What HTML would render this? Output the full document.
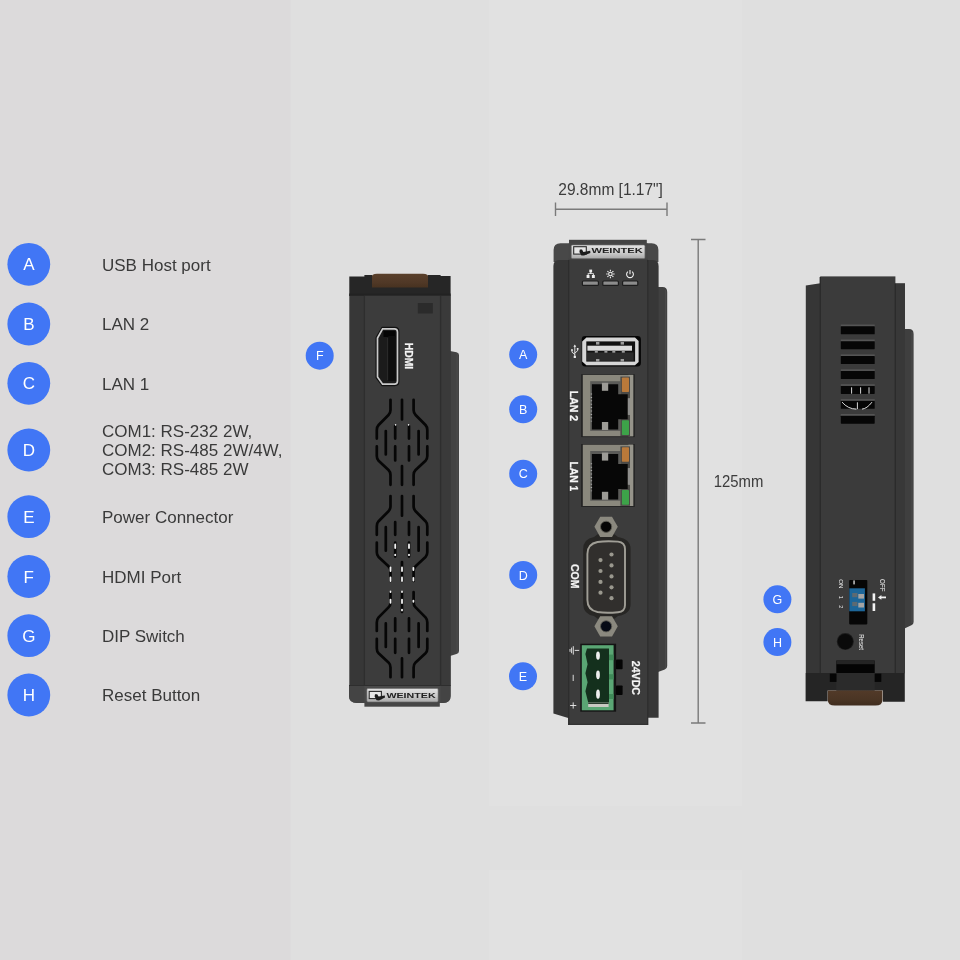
<!DOCTYPE html>
<html>
<head>
<meta charset="utf-8">
<title>cMT-FHDX-820 I/O ports</title>
<style>
html,body{margin:0;padding:0;background:#dfdfdf;}
body{width:960px;height:960px;overflow:hidden;font-family:"Liberation Sans",sans-serif;}
svg{will-change:transform;display:block;position:absolute;left:0;top:0;}
text{font-family:"Liberation Sans",sans-serif;}
.lg{font-size:17px;fill:#3a3a3a;}
.cl{font-size:17px;fill:#ffffff;text-anchor:middle;}
.cs{font-size:12.5px;fill:#ffffff;text-anchor:middle;}
.dim{font-size:17px;fill:#3c3c3c;}
.wb{font-weight:bold;fill:#f6f6f6;stroke:#f6f6f6;stroke-width:0.25px;}
</style>
</head>
<body>
<svg width="960" height="960" viewBox="0 0 960 960">
<defs>
  <linearGradient id="bgL" x1="0" y1="0" x2="1" y2="0">
    <stop offset="0" stop-color="#dcdbdc"/><stop offset="1" stop-color="#dad9da"/>
  </linearGradient>
  <linearGradient id="plate" x1="0" y1="0" x2="0" y2="1">
    <stop offset="0" stop-color="#e2e2e2"/><stop offset="0.6" stop-color="#c9c9c9"/><stop offset="1" stop-color="#a9a9a9"/>
  </linearGradient>
  <linearGradient id="brown" x1="0" y1="0" x2="0" y2="1">
    <stop offset="0" stop-color="#5a402b"/><stop offset="0.6" stop-color="#503826"/><stop offset="1" stop-color="#46311f"/>
  </linearGradient>
  <linearGradient id="brown2" x1="0" y1="0" x2="0" y2="1">
    <stop offset="0" stop-color="#523a28"/><stop offset="0.6" stop-color="#4a3524"/><stop offset="1" stop-color="#3f2c1e"/>
  </linearGradient>
</defs>

<!-- ================= BACKGROUND ================= -->
<rect x="0" y="0" width="960" height="960" fill="#dfdfdf"/>
<rect x="0" y="0" width="290.8" height="960" fill="#dcdadb"/>
<rect x="290.8" y="0" width="198.4" height="960" fill="#dfdfdf"/>
<rect x="489.2" y="0" width="253.4" height="960" fill="#e1e1e1"/>
<rect x="489.2" y="806" width="253.4" height="64" fill="#dfdfdf"/>
<rect x="742.6" y="0" width="217.4" height="960" fill="#dfdfdf"/>

<!-- ================= LEGEND ================= -->
<g id="legend">
  <circle cx="28.8" cy="264.3" r="21.4" fill="#4176f5"/>
  <circle cx="28.8" cy="324" r="21.4" fill="#4176f5"/>
  <circle cx="28.8" cy="383.3" r="21.4" fill="#4176f5"/>
  <circle cx="28.8" cy="450" r="21.4" fill="#4176f5"/>
  <circle cx="28.8" cy="516.7" r="21.4" fill="#4176f5"/>
  <circle cx="28.8" cy="576.5" r="21.4" fill="#4176f5"/>
  <circle cx="28.8" cy="635.7" r="21.4" fill="#4176f5"/>
  <circle cx="28.8" cy="695" r="21.4" fill="#4176f5"/>
  <text class="cl" x="28.8" y="270.4">A</text>
  <text class="cl" x="28.8" y="330.1">B</text>
  <text class="cl" x="28.8" y="389.4">C</text>
  <text class="cl" x="28.8" y="456.1">D</text>
  <text class="cl" x="28.8" y="522.8">E</text>
  <text class="cl" x="28.8" y="582.6">F</text>
  <text class="cl" x="28.8" y="641.8">G</text>
  <text class="cl" x="28.8" y="701.1">H</text>

  <text class="lg" x="102" y="270.6">USB Host port</text>
  <text class="lg" x="102" y="330.2">LAN 2</text>
  <text class="lg" x="102" y="389.5">LAN 1</text>
  <text class="lg" x="102" y="437.2">COM1: RS-232 2W,</text>
  <text class="lg" x="102" y="456.2">COM2: RS-485 2W/4W,</text>
  <text class="lg" x="102" y="475.2">COM3: RS-485 2W</text>
  <text class="lg" x="102" y="522.9">Power Connector</text>
  <text class="lg" x="102" y="582.6">HDMI Port</text>
  <text class="lg" x="102" y="641.8">DIP Switch</text>
  <text class="lg" x="102" y="701.2">Reset Button</text>
</g>

<!-- ================= DIMENSIONS ================= -->
<g id="dims" stroke="#7a7a7a" stroke-width="1.4" fill="none">
  <path d="M555.5 209.3H667M555.5 202.5V216M667 202.5V216"/>
  <path d="M698.2 239.5V723M691 239.5H705.5M691 723H705.5"/>
</g>
<text class="dim" x="558.3" y="194.5" textLength="104.6" lengthAdjust="spacingAndGlyphs">29.8mm [1.17"]</text>
<text class="dim" x="713.7" y="486.9" textLength="49.6" lengthAdjust="spacingAndGlyphs">125mm</text>

<!-- ================= LEFT DEVICE (HDMI side) ================= -->
<g id="devL">
  <!-- back plate -->
  <path d="M450 351 L456.5 352.2 Q459 352.7 459 355 V651 Q459 653.3 456.5 654 L450 656 Z" fill="#424242"/>
  <path d="M457.2 353 V653" stroke="#4a4a4a" stroke-width="1.2"/>
  <!-- brown clip -->
  <path d="M371.4 278 Q371.4 273.8 377 273.8 H423 Q428.6 273.8 428.6 278 V288.5 H371.4 Z" fill="url(#brown)"/>
  <!-- top dark cap -->
  <path d="M349.3 276.4 H364.4 V275 H372 V287.4 H428 V275 H440.6 V276 H450.6 V296 H349.3 Z" fill="#262626"/>
  <path d="M349.3 293.5 H450.6 V296 H349.3 Z" fill="#222222"/>
  <!-- body -->
  <rect x="349.3" y="295.8" width="101.3" height="390" fill="#373737"/>
  <rect x="364.4" y="295.8" width="76.2" height="390" fill="#3c3c3c"/>
  <rect x="440.6" y="295.8" width="10" height="390" fill="#3a3a3a"/>
  <path d="M364.4 295.8 V686 M440.6 295.8 V686" stroke="#2e2e2e" stroke-width="1.3"/>
  <!-- bottom cap -->
  <path d="M349 685.5 H450.6 V696 Q450.6 703 443 703 H357 Q349 703 349 696 Z" fill="#4a4a4a"/>
  <path d="M349 685.5 H364.4 V703 H357 Q349 703 349 696 Z" fill="#444444"/>
  <path d="M440.6 685.5 H450.6 V696 Q450.6 703 443 703 H440.6 Z" fill="#444444"/>
  <rect x="364.4" y="701.5" width="75.4" height="5.2" fill="#464646"/>
  <path d="M349 685.5 H450.6" stroke="#2e2e2e" stroke-width="1.2"/>
  <!-- logo plate -->
  <rect x="366.9" y="688.5" width="71.2" height="13.4" rx="1.2" fill="url(#plate)" stroke="#6e6e6e" stroke-width="0.6"/>
  <g id="logo">
    <rect x="369.2" y="691.4" width="12.2" height="7.2" fill="#e8e8e8" stroke="#2a2a2a" stroke-width="1.1"/>
    <path d="M375 694.2 L377.2 694.2 L378.6 696.6 L384.8 695.4 L385 697.6 L379 700.4 L376.6 700.2 L374.6 696.6 Z" fill="#1c1c1c"/>
    <text x="0" y="0" transform="translate(386.4 697.5) scale(1.62 1)" font-size="6.6" font-weight="bold" fill="#222222">WEINTEK</text>
  </g>
  <!-- small rect -->
  <rect x="417.8" y="303" width="15" height="10.5" fill="#2b2b2b"/>
  <!-- HDMI port -->
  <path d="M382.2 327.6 H394.8 Q398.6 327.6 398.6 331.4 V381.6 Q398.6 385.4 394.8 385.4 H382.2 L376.3 377.4 V337.6 Z" fill="#0c0c0c" stroke="#111111" stroke-width="1.6"/>
  <path d="M382.6 328.8 H394.4 Q397.5 328.8 397.5 331.9 V381.1 Q397.5 384.2 394.4 384.2 H382.6 L377.5 377 V338 Z" fill="#1b1b1b" stroke="#c9c9c9" stroke-width="1.7"/>
  <rect x="383.5" y="331" width="12" height="6" fill="#050505"/>
  <rect x="388.2" y="336" width="7.6" height="45" fill="#0e0e0e"/>
  <path d="M387.6 338 V380" stroke="#2c2c2c" stroke-width="0.9"/>
  <text transform="translate(404.5 342.8) rotate(90)" font-size="11.2" textLength="26.4" lengthAdjust="spacingAndGlyphs" class="wb">HDMI</text>
  <!-- vents -->
  <g id="vent" fill="none" stroke="#060606" stroke-width="2.7" stroke-linecap="round" stroke-linejoin="round">
    <path d="M390.5 399.8 V410 Q390.5 413 388.5 415 L378.6 425 Q376.8 427 376.8 430 V438.6"/>
    <path d="M376.8 446.4 V456 Q376.8 459 378.6 460.8 L388.5 470 Q390.5 472 390.5 475 V484.8"/>
    <path d="M413.6 399.8 V410 Q413.6 413 415.6 415 L425.5 425 Q427.3 427 427.3 430 V438.6"/>
    <path d="M427.3 446.4 V456 Q427.3 459 425.5 460.8 L415.6 470 Q413.6 472 413.6 475 V484.8"/>
    <path d="M402 399.8 V419.5 M402 466 V484.8"/>
    <path d="M395.2 426 V438.6 M395.2 446.4 V460.4 M409 426 V438.6 M409 446.4 V460.4"/>
    <path d="M385.8 431 V454.5 M418.6 431 V454.5"/>
  </g>
  <use href="#vent" y="96.2"/>
  <use href="#vent" y="192.4"/>
  <!-- light leaks through vents -->
  <g stroke="#f2f2f2" stroke-width="1.8" stroke-linecap="round" fill="none">
    <path d="M395.2 544.4 V548 M409 544.4 V548 M395.2 554.6 V555.2 M409 554.6 V555.2"/>
    <path d="M390.5 567.4 V571 M402 567.4 V571 M413.4 567.8 V570 M390.5 577.4 V581 M402 577.4 V581 M413.4 577.8 V580.6"/>
    <path d="M390.5 591.4 V592 M402 591.4 V592 M390.5 599.6 V602.8 M402 599.6 V603 M413.4 600.6 V601.8 M402 609.6 V610.4"/>
    <path d="M395.6 424.6 V425 M408.6 424.6 V425" stroke-width="1.4"/>
  </g>
</g>

<!-- ================= CENTER DEVICE (front) ================= -->
<g id="devC">
  <!-- back plate -->
  <path d="M658 287 H662.5 Q667.2 287 667.2 292 V666 Q667.2 668.6 664.8 669.4 L658 672 Z" fill="#404040"/>
  <path d="M665.6 290 V668" stroke="#4a4a4a" stroke-width="1.2"/>
  <!-- top ledge + shoulder cap -->
  <rect x="569" y="239.8" width="77.8" height="8" fill="#444444"/>
  <path d="M553.6 262 V250 Q553.6 243.2 560.5 243.2 H651.5 Q658.4 243.2 658.4 250 V262 Z" fill="#484848"/>
  <!-- body sides -->
  <path d="M553.4 266 Q553.4 260 559 260 H569 V718.2 L553.4 713.6 Z" fill="#363636"/>
  <path d="M647.6 260 H653 Q658.6 260 658.6 266 V717.8 H647.6 Z" fill="#373737"/>
  <!-- front panel -->
  <rect x="568.7" y="258.5" width="79" height="466.5" fill="#3c3c3c"/>
  <rect x="568.7" y="243.5" width="79" height="16" fill="#464646"/>
  <path d="M568.7 260 V725 M647.7 260 V725" stroke="#2d2d2d" stroke-width="1.3"/>
  <path d="M568.7 724.4 H647.7" stroke="#333333" stroke-width="1.2"/>
  <!-- logo plate -->
  <rect x="571.3" y="245" width="73.6" height="13.5" rx="1.2" fill="url(#plate)" stroke="#707070" stroke-width="0.6"/>
  <g>
    <rect x="573.7" y="246.7" width="12.6" height="7.4" fill="#e6e6e6" stroke="#2a2a2a" stroke-width="1.1"/>
    <path d="M579.8 249.6 L582 249.6 L583.4 252 L590.2 250.8 L590.4 253 L584 255.6 L581.4 255.4 L579.4 252 Z" fill="#1c1c1c"/>
    <text x="0" y="0" transform="translate(591.4 252.5) scale(1.69 1)" font-size="6.6" font-weight="bold" fill="#222222">WEINTEK</text>
  </g>
  <!-- status icons -->
  <g fill="#f0f0f0" stroke="none">
    <rect x="589.3" y="269.6" width="2.8" height="2.8"/>
    <rect x="586.6" y="275" width="2.9" height="3"/>
    <rect x="591.9" y="275" width="2.9" height="3"/>
    <path d="M590.3 272 h0.9 v1.2 h2.6 v2 h-0.9 v-1.1 h-4.3 v1.1 h-0.9 v-2 h2.6 Z"/>
  </g>
  <g fill="none" stroke="#f0f0f0">
    <circle cx="610.4" cy="274" r="1.75" stroke-width="1.1"/>
    <path d="M613.10 274.00 L614.60 274.00 M612.31 275.91 L613.37 276.97 M610.40 276.70 L610.40 278.20 M608.49 275.91 L607.43 276.97 M607.70 274.00 L606.20 274.00 M608.49 272.09 L607.43 271.03 M610.40 271.30 L610.40 269.80 M612.31 272.09 L613.37 271.03" stroke-width="1.1"/>
    <path d="M627.9 271.6 A3.4 3.4 0 1 0 632.1 271.6" stroke-width="1.1"/>
    <path d="M630 270 V274.2" stroke-width="1.1"/>
  </g>
  <!-- LED bars -->
  <g fill="#8c8c8c" stroke="#1d1d1d" stroke-width="1.2">
    <rect x="582.4" y="281" width="16" height="4.4" rx="1"/>
    <rect x="602.8" y="281" width="15.6" height="4.4" rx="1"/>
    <rect x="622.6" y="281" width="15.2" height="4.4" rx="1"/>
  </g>
  <!-- USB symbol -->
  <g fill="none" stroke="#eeeeee" stroke-width="0.9">
    <path d="M574.8 345.8 V356 M574.8 354.4 L572 352.2 V350.2 M574.8 353 L577.6 350.8 V349.2"/>
    <path d="M573.4 346.8 L574.8 344.4 L576.2 346.8 Z" fill="#eeeeee" stroke="none"/>
    <rect x="573.7" y="355.8" width="2.2" height="2.2" fill="#eeeeee" stroke="none"/>
    <circle cx="572" cy="350" r="0.9" fill="#eeeeee" stroke="none"/>
    <rect x="576.8" y="348" width="1.7" height="1.7" fill="#eeeeee" stroke="none"/>
  </g>
  <!-- USB port -->
  <rect x="581.7" y="336.1" width="59.2" height="30.3" rx="3.4" fill="#050505"/>
  <path d="M586.4 337.6 H635 L638.6 341 V362 L635 365.3 H586.4 L582.2 361.6 V341.4 Z" fill="#d6d6d6"/>
  <rect x="586.3" y="341.4" width="48.8" height="20.2" fill="#111111"/>
  <rect x="587.4" y="345.7" width="44.6" height="5" fill="#dadada"/>
  <rect x="587" y="352.4" width="46.6" height="8.4" fill="#2b2b2b"/>
  <g fill="#9a9a9a">
    <rect x="596" y="342" width="3.4" height="2.6"/><rect x="620.6" y="342" width="3.4" height="2.6"/>
    <rect x="596" y="359" width="3.4" height="2.6"/><rect x="620.6" y="359" width="3.4" height="2.6"/>
    <rect x="594.8" y="351" width="3" height="1.7"/><rect x="604.4" y="351" width="3" height="1.7"/><rect x="612.3" y="351" width="3" height="1.7"/><rect x="621.8" y="351" width="3" height="1.7"/>
  </g>
  <!-- LAN ports -->
  <g>
    <rect x="581.1" y="374.2" width="53.7" height="62.9" fill="#232323"/>
    <rect x="582.8" y="374.9" width="50.4" height="61.3" fill="#8a887d"/>
    <rect x="628.4" y="374.9" width="4.8" height="61.3" fill="#96948a"/>
    <rect x="590.2" y="381.2" width="30.2" height="49.7" fill="#5b5b58"/>
    <rect x="620.4" y="376.6" width="9.6" height="21.8" fill="#4b4a47"/>
    <rect x="620.4" y="414.8" width="9.6" height="21.2" fill="#4b4a47"/>
    <rect x="627.6" y="398.4" width="2.4" height="16.4" fill="#8e8e8c"/>
    <path d="M591.9 384.2 H618.2 V394.2 H627.7 V419.2 H618.2 V429.6 H591.9 Z" fill="#070707"/>
    <rect x="601.9" y="382.8" width="6.3" height="8" fill="#9c9b96"/>
    <rect x="601.9" y="422.0" width="6.3" height="8" fill="#9c9b96"/>
    <path d="M591.4 393.5 V421.5" stroke="#a8a8a8" stroke-width="1.4" stroke-dasharray="1 2.4"/>
    <rect x="621.9" y="377.5" width="7.1" height="14.5" rx="0.8" fill="#b9793a"/>
    <rect x="621.9" y="420.2" width="7.1" height="14.8" rx="0.8" fill="#3da349"/>
  </g>
  <g>
    <rect x="581.1" y="444.0" width="53.7" height="62.9" fill="#232323"/>
    <rect x="582.8" y="444.7" width="50.4" height="61.3" fill="#8a887d"/>
    <rect x="628.4" y="444.7" width="4.8" height="61.3" fill="#96948a"/>
    <rect x="590.2" y="451.0" width="30.2" height="49.7" fill="#5b5b58"/>
    <rect x="620.4" y="446.4" width="9.6" height="21.8" fill="#4b4a47"/>
    <rect x="620.4" y="484.6" width="9.6" height="21.2" fill="#4b4a47"/>
    <rect x="627.6" y="468.2" width="2.4" height="16.4" fill="#8e8e8c"/>
    <path d="M591.9 454.0 H618.2 V464.0 H627.7 V489.0 H618.2 V499.4 H591.9 Z" fill="#070707"/>
    <rect x="601.9" y="452.6" width="6.3" height="8" fill="#9c9b96"/>
    <rect x="601.9" y="491.8" width="6.3" height="8" fill="#9c9b96"/>
    <path d="M591.4 463.3 V491.3" stroke="#a8a8a8" stroke-width="1.4" stroke-dasharray="1 2.4"/>
    <rect x="621.9" y="447.3" width="7.1" height="14.5" rx="0.8" fill="#b9793a"/>
    <rect x="621.9" y="490.0" width="7.1" height="14.8" rx="0.8" fill="#3da349"/>
  </g>
  <text transform="translate(570.4 390.8) rotate(90)" font-size="10.6" textLength="30.4" lengthAdjust="spacingAndGlyphs" class="wb">LAN 2</text>
  <text transform="translate(570.4 461.4) rotate(90)" font-size="10.6" textLength="29.8" lengthAdjust="spacingAndGlyphs" class="wb">LAN 1</text>
  <!-- COM port -->
  <path d="M598 534 Q606 540 614 534 L618 537 Q630.6 539 630.6 549 V604 Q630.6 614 618 616 L614 619 Q606 613 598 619 L594 616 Q583.2 614 583.2 604 V549 Q583.2 539 594 537 Z" fill="#272624"/>
  <polygon points="617.8,526.8 612.0,536.9 600.2,536.9 594.4,526.8 600.2,516.7 612.0,516.7" fill="#8b897f"/>
  <circle cx="606.1" cy="526.8" r="5.6" fill="#050505" stroke="#5e5c55" stroke-width="0.9"/>
  <polygon points="617.8,626.3 612.0,636.4 600.2,636.4 594.4,626.3 600.2,616.2 612.0,616.2" fill="#8b897f"/>
  <circle cx="606.1" cy="626.3" r="5.6" fill="#070b16" stroke="#5e5c55" stroke-width="0.9"/>
  <path d="M597.5 542 Q606 540.6 618 541.6 Q625 542.4 625 549 V605 Q625 611.6 618 612.2 Q606 613.4 597.5 612 Q587.4 610 587.4 600 V554 Q587.4 544 597.5 542 Z" fill="#312f2d" stroke="#a09e96" stroke-width="1.9"/>
  <g fill="#9a988e">
    <circle cx="600.5" cy="560.1" r="2.1"/><circle cx="600.5" cy="571" r="2.1"/><circle cx="600.5" cy="581.9" r="2.1"/><circle cx="600.5" cy="592.7" r="2.1"/>
    <circle cx="611.5" cy="554.5" r="2.1"/><circle cx="611.5" cy="565.4" r="2.1"/><circle cx="611.5" cy="576.4" r="2.1"/><circle cx="611.5" cy="587.3" r="2.1"/><circle cx="611.5" cy="598.2" r="2.1"/>
  </g>
  <text transform="translate(570.5 564) rotate(90)" font-size="10.6" textLength="24.6" lengthAdjust="spacingAndGlyphs" class="wb">COM</text>
  <!-- power connector -->
  <rect x="580.3" y="643.7" width="35.8" height="68" fill="#141414"/>
  <rect x="581.8" y="645.2" width="31.8" height="65.1" fill="#5aa674"/>
  <g fill="#3f8a58">
    <rect x="609" y="654.6" width="4.6" height="5.6"/><rect x="609" y="674.2" width="4.6" height="5.2"/><rect x="609" y="694" width="4.6" height="5"/>
  </g>
  <path d="M587 648.4 H609 V702.4 H588.2 L585.4 691.2 L587.6 682.2 L585.4 673.2 L587.6 664.2 L585.4 654 Z" fill="#14301d"/>
  <rect x="588.2" y="702.4" width="20.4" height="4.6" fill="#c9c9c2"/>
  <rect x="588.2" y="702.4" width="20.4" height="1.6" fill="#2a3a2e"/>
  <g fill="#eeeeee">
    <ellipse cx="598" cy="655.6" rx="1.9" ry="4.2"/><ellipse cx="598" cy="674.8" rx="1.9" ry="4.4"/><ellipse cx="598" cy="694.2" rx="1.9" ry="4.6"/>
  </g>
  <rect x="616" y="659.6" width="6.6" height="9.6" rx="0.8" fill="#050505"/>
  <rect x="616" y="685.5" width="6.6" height="9.6" rx="0.8" fill="#050505"/>
  <text transform="translate(631.9 660.8) rotate(90)" font-size="11" textLength="34.2" lengthAdjust="spacingAndGlyphs" class="wb">24VDC</text>
  <g stroke="#eeeeee" stroke-width="0.9" fill="none">
    <path d="M574.7 650.4 H579.2 M573.3 646.2 V654.6 M571.6 647.6 V653.2 M570 649 V651.8"/>
    <path d="M573.2 674.8 V681"/>
    <path d="M573.2 702.4 V708.6 M570.1 705.5 H576.3"/>
  </g>
</g>

<!-- ================= RIGHT DEVICE (DIP side) ================= -->
<g id="devR">
  <!-- back plate -->
  <path d="M905 329 H909 Q913.6 329 913.6 334 V622 Q913.6 624.6 911.4 625.2 L905 628.2 Z" fill="#3f3f3f"/>
  <path d="M912 332 V623" stroke="#4a4a4a" stroke-width="1.2"/>
  <!-- body -->
  <path d="M805.8 285.6 L820.4 283.2 V673 H805.8 Z" fill="#363636"/>
  <rect x="895.2" y="283.2" width="9.8" height="390" fill="#383838"/>
  <rect x="820.2" y="276.4" width="75.2" height="397" fill="#3b3b3b"/>
  <path d="M820.3 277 V673 M895.3 283.5 V673" stroke="#2b2b2b" stroke-width="1.4"/>
  <!-- vents -->
  <g fill="#060606"><rect x="840.8" y="326.3" width="33.9" height="8" rx="0.6"/><rect x="840.8" y="341.2" width="33.9" height="8" rx="0.6"/><rect x="840.8" y="356.1" width="33.9" height="8" rx="0.6"/><rect x="840.8" y="371.0" width="33.9" height="8" rx="0.6"/><rect x="840.8" y="385.9" width="33.9" height="8" rx="0.6"/><rect x="840.8" y="400.8" width="33.9" height="8" rx="0.6"/><rect x="840.8" y="415.7" width="33.9" height="8" rx="0.6"/></g>
  <g fill="#555555"><rect x="840.8" y="324.5" width="33.9" height="1.6"/><rect x="840.8" y="339.5" width="33.9" height="1.6"/><rect x="840.8" y="354.4" width="33.9" height="1.6"/><rect x="840.8" y="369.3" width="33.9" height="1.6"/><rect x="840.8" y="384.2" width="33.9" height="1.6"/><rect x="840.8" y="399.1" width="33.9" height="1.6"/><rect x="840.8" y="414.0" width="33.9" height="1.6"/></g>
  <g stroke="#efefef" stroke-width="0.9" fill="none">
    <path d="M851.6 387.3 V393.7 M860.6 387.3 V393.7 M869 387.3 V393.7"/>
    <path d="M842 402.1 Q848 409.1 856.4 409.1 M857.4 402.3 V409.1 M872 402.1 Q867 408.7 862 409.1"/>
  </g>
  <!-- bottom dark cap -->
  <path d="M805.6 673 H904.8 V701.8 H883 V690.6 H827.6 V701.3 H805.6 Z" fill="#252525"/>
  <rect x="836.3" y="673" width="38.4" height="17.8" fill="#2b2b2b"/>
  <!-- brown clip -->
  <path d="M827.8 690.6 H882.5 V700 Q882.5 705.6 875.5 705.6 H834.8 Q827.8 705.6 827.8 700 Z" fill="url(#brown2)"/>
  <!-- slot -->
  <rect x="836.3" y="660.6" width="38.4" height="12.4" fill="#040404"/>
  <rect x="836.3" y="660.6" width="38.4" height="3.6" fill="#242424"/>
  <rect x="829.8" y="673.6" width="6.7" height="8.3" fill="#050505"/>
  <rect x="874.7" y="673.6" width="6.6" height="8.3" fill="#050505"/>
  <!-- DIP switch -->
  <rect x="849.2" y="580.1" width="18.1" height="44.3" rx="0.8" fill="#060606"/>
  <rect x="849.3" y="588.3" width="15.6" height="23" fill="#1d6699"/>
  <rect x="852.2" y="593" width="5.2" height="4.2" fill="#5d6a72"/><rect x="852.2" y="601.9" width="5.2" height="4.2" fill="#5d6a72"/>
  <rect x="858.3" y="594" width="5.7" height="4.6" fill="#a4a4a4"/>
  <rect x="858.3" y="602.8" width="5.7" height="4.7" fill="#a4a4a4"/>
  <rect x="853.4" y="580.4" width="1.3" height="4" fill="#e4e4e4"/>
  <g fill="#f2f2f2">
    <rect x="872.6" y="593.4" width="2.6" height="7.4"/>
    <rect x="872.6" y="603.3" width="2.6" height="7.7"/>
    <path d="M880 596.5 H886 V598.3 H880 Z"/>
    <path d="M878 597.4 L881.4 595 V599.8 Z"/>
  </g>
  <text transform="translate(838.6 579.2) rotate(90)" font-size="5.6" fill="#f0f0f0" textLength="9.2" lengthAdjust="spacingAndGlyphs">ON</text>
  <text transform="translate(838.6 595.8) rotate(90)" font-size="5.6" fill="#f0f0f0">1</text>
  <text transform="translate(838.6 605.2) rotate(90)" font-size="5.6" fill="#f0f0f0">2</text>
  <text transform="translate(879.8 579) rotate(90)" font-size="6.4" fill="#f0f0f0" textLength="12.6" lengthAdjust="spacingAndGlyphs">OFF</text>
  <!-- reset -->
  <circle cx="845.3" cy="641.6" r="8.5" fill="#1c1c1c"/>
  <circle cx="845.3" cy="641.6" r="7.6" fill="#0a0a0a"/>
  <text transform="translate(859.2 634.2) rotate(90)" font-size="6.4" fill="#f0f0f0" textLength="15.8" lengthAdjust="spacingAndGlyphs">Reset</text>
</g>

<!-- ================= CALLOUT CIRCLES ================= -->
<g id="callouts">
  <circle cx="319.7" cy="355.7" r="14" fill="#4176f5"/>
  <circle cx="523.2" cy="354.6" r="14" fill="#4176f5"/>
  <circle cx="523.2" cy="409.3" r="14" fill="#4176f5"/>
  <circle cx="523.2" cy="473.8" r="14" fill="#4176f5"/>
  <circle cx="523.2" cy="575" r="14" fill="#4176f5"/>
  <circle cx="523" cy="676.3" r="14" fill="#4176f5"/>
  <circle cx="777.4" cy="599.3" r="14" fill="#4176f5"/>
  <circle cx="777.4" cy="642.1" r="14" fill="#4176f5"/>
  <text class="cs" x="319.7" y="360.2">F</text>
  <text class="cs" x="523.2" y="359.1">A</text>
  <text class="cs" x="523.2" y="413.8">B</text>
  <text class="cs" x="523.2" y="478.3">C</text>
  <text class="cs" x="523.2" y="579.5">D</text>
  <text class="cs" x="523" y="680.8">E</text>
  <text class="cs" x="777.4" y="603.8">G</text>
  <text class="cs" x="777.4" y="646.6">H</text>
</g>
</svg>
</body>
</html>
